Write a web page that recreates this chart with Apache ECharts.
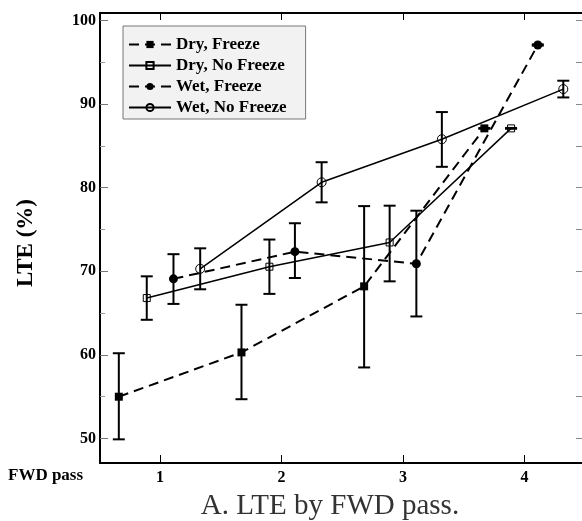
<!DOCTYPE html>
<html>
<head>
<meta charset="utf-8">
<script src="https://cdn.jsdelivr.net/npm/echarts@6/dist/echarts.min.js"></script>
<style>
  html, body { margin: 0; padding: 0; background: #fff; }
  #chart { width: 582px; height: 521px; }
</style>
</head>
<body>
<div id="chart"></div>
<script>
// LTE (%) per FWD pass, four surface/freeze conditions, offset along x
const seriesNames = ['Dry, Freeze', 'Dry, No Freeze', 'Wet, Freeze', 'Wet, No Freeze'];

const dryFreezeX = [0.66, 1.67, 2.68, 3.67];
const dryFreezeY = [55.0, 60.3, 68.2, 87.1];
const dryFreezeLo = [49.9, 54.7, 58.5, 87.05];
const dryFreezeHi = [60.2, 66.0, 77.8, 87.15];

const dryNoFreezeX = [0.89, 1.90, 2.89, 3.89];
const dryNoFreezeY = [66.8, 70.55, 73.45, 87.1];
const dryNoFreezeLo = [64.2, 67.3, 68.8, 87.05];
const dryNoFreezeHi = [69.4, 73.8, 77.85, 87.15];

const wetFreezeX = [1.11, 2.11, 3.11, 4.11];
const wetFreezeY = [69.1, 72.35, 70.9, 97.07];
const wetFreezeLo = [66.1, 69.2, 64.6, 97.0];
const wetFreezeHi = [72.05, 75.75, 77.25, 97.15];

const wetNoFreezeX = [1.33, 2.33, 3.32, 4.32];
const wetNoFreezeY = [70.3, 80.65, 85.8, 91.8];
const wetNoFreezeLo = [67.85, 78.25, 82.5, 90.8];
const wetNoFreezeHi = [72.75, 83.05, 89.05, 92.8];

const xTicks = [1, 2, 3, 4];
const yMajorTicks = [50, 60, 70, 80, 90, 100];
const yMinorTicks = [55, 65, 75, 85, 95];
const yAllTicks = [50, 55, 60, 65, 70, 75, 80, 85, 90, 95, 100];

const xMin = 0.505, xMax = 4.474;
const yMin = 47.07, yMax = 100.9;

const serif = "'Liberation Serif', 'DejaVu Serif', serif";

function pairs(xs, ys) { return xs.map((x, i) => [x, ys[i]]); }
function errRows(xs, lo, hi) { return xs.map((x, i) => [x, lo[i], hi[i]]); }

function lineSeries(name, xs, ys, dashed, symbol, size, filled) {
  return {
    name: name,
    type: 'line',
    data: pairs(xs, ys),
    symbol: symbol,
    symbolSize: size,
    z: 3,
    lineStyle: { color: '#000', width: dashed ? 2 : 1.5, type: dashed ? [10, 6] : 'solid' },
    itemStyle: {
      color: filled ? '#000' : 'rgba(0,0,0,0)',
      borderColor: '#000',
      borderWidth: filled ? 0 : 1
    },
    emphasis: { disabled: true },
    animation: false
  };
}

function errorSeries(xs, lo, hi) {
  return {
    type: 'custom',
    data: errRows(xs, lo, hi),
    z: 4,
    silent: true,
    animation: false,
    renderItem: function (params, api) {
      const x = api.value(0);
      const p1 = api.coord([x, api.value(1)]);
      const p2 = api.coord([x, api.value(2)]);
      const cap = 6;
      const st = { stroke: '#000', lineWidth: 2, fill: 'none' };
      return {
        type: 'group',
        children: [
          { type: 'line', shape: { x1: p1[0], y1: p1[1], x2: p2[0], y2: p2[1] }, style: st },
          { type: 'line', shape: { x1: p1[0] - cap, y1: p1[1], x2: p1[0] + cap, y2: p1[1] }, style: st },
          { type: 'line', shape: { x1: p2[0] - cap, y1: p2[1], x2: p2[0] + cap, y2: p2[1] }, style: st }
        ]
      };
    }
  };
}

const chart = echarts.init(document.getElementById('chart'), null, { renderer: 'canvas' });

const option = {
  backgroundColor: '#fff',
  animation: false,
  grid: { left: 100, top: 13, right: -1, bottom: 58, containLabel: false },
  xAxis: [
    {
      type: 'value', position: 'bottom', min: xMin, max: xMax,
      axisLine: { show: true, onZero: false, lineStyle: { color: '#000', width: 2 } },
      axisTick: { show: true, inside: true, length: 8, customValues: xTicks, lineStyle: { color: '#000', width: 1 } },
      axisLabel: { customValues: xTicks, margin: 7, color: '#000', fontFamily: serif, fontWeight: 'bold', fontSize: 16 },
      splitLine: { show: false }
    },
    {
      type: 'value', position: 'top', min: xMin, max: xMax,
      axisLine: { show: true, onZero: false, lineStyle: { color: '#000', width: 2 } },
      axisTick: { show: true, inside: true, length: 7, customValues: xTicks, lineStyle: { color: '#000', width: 1 } },
      axisLabel: { show: false },
      splitLine: { show: false }
    }
  ],
  yAxis: [
    {
      type: 'value', position: 'left', min: yMin, max: yMax,
      axisLine: { show: true, onZero: false, lineStyle: { color: '#000', width: 2 } },
      axisTick: { show: true, inside: true, length: 8, customValues: yMajorTicks, lineStyle: { color: '#777', width: 1 } },
      axisLabel: { customValues: yMajorTicks, margin: 4, color: '#000', fontFamily: serif, fontWeight: 'bold', fontSize: 16 },
      splitLine: { show: false }
    },
    {
      type: 'value', position: 'left', min: yMin, max: yMax,
      axisLine: { show: false },
      axisTick: { show: true, inside: true, length: 5, customValues: yMinorTicks, lineStyle: { color: '#999', width: 1 } },
      axisLabel: { show: false },
      splitLine: { show: false }
    },
    {
      type: 'value', position: 'right', min: yMin, max: yMax,
      axisLine: { show: false },
      axisTick: { show: true, inside: true, length: 6, customValues: yAllTicks, lineStyle: { color: '#888', width: 1 } },
      axisLabel: { show: false },
      splitLine: { show: false }
    }
  ],
  legend: {
    data: seriesNames,
    orient: 'vertical',
    left: 123, top: 26,
    backgroundColor: '#f2f2f2',
    borderColor: '#777', borderWidth: 1,
    padding: [10, 19, 3, 5],
    itemWidth: 42, itemHeight: 9, itemGap: 4,
    selectedMode: false,
    textStyle: { color: '#000', fontFamily: serif, fontWeight: 'bold', fontSize: 17, lineHeight: 17 }
  },
  graphic: [
    {
      type: 'text', x: 26, y: 243, rotation: Math.PI / 2,
      style: { text: 'LTE (%)', fill: '#000', font: "bold 23px 'Liberation Serif', serif", align: 'center', verticalAlign: 'middle' }
    },
    {
      type: 'text', x: 8, y: 476,
      style: { text: 'FWD pass', fill: '#000', font: "bold 17px 'Liberation Serif', serif", align: 'left', verticalAlign: 'middle' }
    },
    {
      type: 'text', x: 330, y: 506,
      style: { text: 'A. LTE by FWD pass.', fill: '#333', font: "29px 'Liberation Serif', serif", align: 'center', verticalAlign: 'middle' }
    }
  ],
  series: [
    lineSeries(seriesNames[0], dryFreezeX, dryFreezeY, true, 'rect', 8, true),
    lineSeries(seriesNames[1], dryNoFreezeX, dryNoFreezeY, false, 'rect', 7, false),
    lineSeries(seriesNames[2], wetFreezeX, wetFreezeY, true, 'circle', 9, true),
    lineSeries(seriesNames[3], wetNoFreezeX, wetNoFreezeY, false, 'circle', 9, false),
    errorSeries(dryFreezeX, dryFreezeLo, dryFreezeHi),
    errorSeries(dryNoFreezeX, dryNoFreezeLo, dryNoFreezeHi),
    errorSeries(wetFreezeX, wetFreezeLo, wetFreezeHi),
    errorSeries(wetNoFreezeX, wetNoFreezeLo, wetNoFreezeHi)
  ]
};

chart.setOption(option);
</script>
</body>
</html>
